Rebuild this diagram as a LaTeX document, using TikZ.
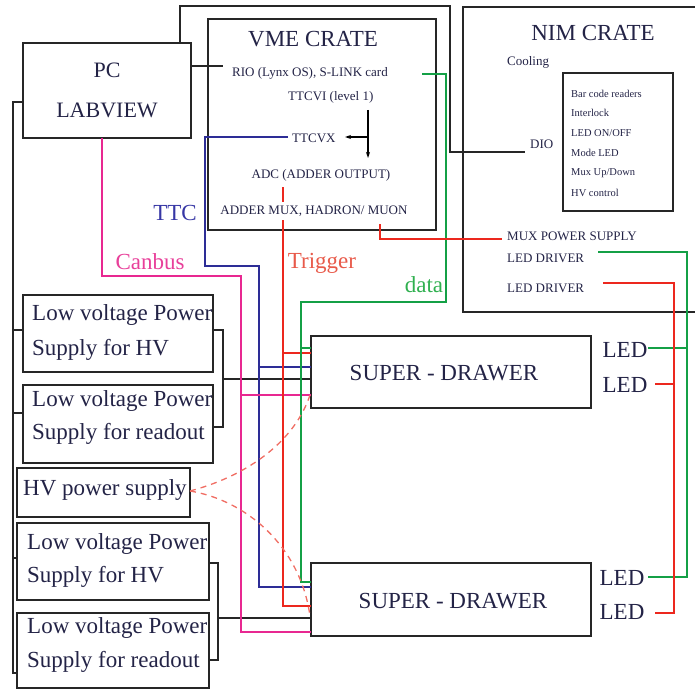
\documentclass[tikz,border=0pt]{standalone}
\usepackage{fontspec}
\setmainfont{Liberation Serif}
\usetikzlibrary{arrows.meta}
\definecolor{tc}{RGB}{35,35,70}
\definecolor{lblue}{RGB}{45,45,150}
\definecolor{lpink}{RGB}{232,40,145}
\definecolor{lred}{RGB}{236,40,30}
\definecolor{lgreen}{RGB}{20,160,70}
\definecolor{dred}{RGB}{240,110,100}
\definecolor{ttcc}{RGB}{55,55,165}
\definecolor{canc}{RGB}{232,64,154}
\definecolor{trigc}{RGB}{232,90,74}
\definecolor{datac}{RGB}{48,176,80}
\begin{document}
\begin{tikzpicture}[x=1pt,y=-1pt,
  box/.style={draw=black!85,line width=1.6pt,inner sep=0pt},
  ln/.style={line width=1.4pt,draw=black!85},
  bl/.style={line width=1.4pt,draw=lblue},
  pk/.style={line width=1.4pt,draw=lpink},
  rd/.style={line width=1.4pt,draw=lred},
  gr/.style={line width=1.4pt,draw=lgreen},
  hvd/.style={line width=1.3pt,draw=dred,dash pattern=on 6pt off 5pt},
  txt/.style={text=tc,inner sep=0pt},
  big/.style={font=\fontsize{23}{23}\selectfont},
  med/.style={font=\fontsize{13}{13}\selectfont},
  sml/.style={font=\fontsize{10.5}{10.5}\selectfont},
  arr/.style={-{Stealth[length=6pt,width=4pt]},line width=1.2pt,draw=black}
]
\useasboundingbox (0,0) rectangle (695,690);

% ---------- boxes ----------
\node[box,minimum width=168pt,minimum height=95pt,align=center,text=tc,
      font=\fontsize{22}{40}\selectfont] (pc) at (107,90.5) {PC\\LABVIEW};
\node[box,minimum width=228pt,minimum height=211pt] (vme) at (322,124.5) {};
\node[box,minimum width=110pt,minimum height=138pt] (inner) at (618,142) {};
\node[box,minimum width=190pt,minimum height=77pt] (lv1) at (118,333.5) {};
\node[box,minimum width=190pt,minimum height=78pt] (lv2) at (118,424) {};
\node[box,minimum width=173pt,minimum height=49pt] (hv) at (103.5,492.5) {};
\node[box,minimum width=192pt,minimum height=77pt] (lv3) at (113,561.5) {};
\node[box,minimum width=192pt,minimum height=75pt] (lv4) at (113,650.5) {};
\node[box,minimum width=280pt,minimum height=72pt] (sd1) at (451,372) {};
\node[box,minimum width=280pt,minimum height=73pt] (sd2) at (451,599.5) {};
% NIM crate (open to the right)
\draw[box] (695,7) -- (463,7) -- (463,312) -- (695,312);

% ---------- texts ----------
\node[txt,big] (vmet) at (313,39) {VME CRATE};
\node[txt,med,anchor=west] (rio) at (232,73) {RIO (Lynx OS), S-LINK card};
\node[txt,med,anchor=west] (ttcvi) at (288,97) {TTCVI (level 1)};
\node[txt,med,anchor=west] (ttcvx) at (292,138) {TTCVX};
\node[txt,med] (adc) at (321,175) {ADC (ADDER OUTPUT)};

\node[txt,big] (nimt) at (593,33) {NIM CRATE};
\node[txt,med,anchor=west] (cool) at (507,62) {Cooling};
\node[txt,med,anchor=west] (dio) at (530,144) {DIO};
\node[txt,sml,anchor=west] (i1) at (571,94) {Bar code readers};
\node[txt,sml,anchor=west] (i2) at (571,113) {Interlock};
\node[txt,sml,anchor=west] (i3) at (571,133) {LED ON/OFF};
\node[txt,sml,anchor=west] (i4) at (571,153) {Mode LED};
\node[txt,sml,anchor=west] (i5) at (571,173) {Mux Up/Down};
\node[txt,sml,anchor=west] (i6) at (571,193) {HV control};
\node[txt,med,anchor=west] (mux) at (507,236) {MUX POWER SUPPLY};
\node[txt,med,anchor=west] (ld1) at (507,258) {LED DRIVER};
\node[txt,med,anchor=west] (ld2) at (507,288) {LED DRIVER};

\node[txt,big,anchor=west] (lv1a) at (32,315) {Low voltage Power};
\node[txt,big,anchor=west] (lv1b) at (32,350) {Supply for HV};
\node[txt,big,anchor=west] (lv2a) at (32,401) {Low voltage Power};
\node[txt,big,anchor=west] (lv2b) at (32,434) {Supply for readout};
\node[txt,big,anchor=west] (hvt) at (23,490) {HV power supply};
\node[txt,big,anchor=west] (lv3a) at (27,544) {Low voltage Power};
\node[txt,big,anchor=west] (lv3b) at (27,577) {Supply for HV};
\node[txt,big,anchor=west] (lv4a) at (27,628) {Low voltage Power};
\node[txt,big,anchor=west] (lv4b) at (27,662) {Supply for readout};

\node[txt,big] (sd1t) at (444,373) {SUPER - DRAWER};
\node[txt,big] (sd2t) at (453,601) {SUPER - DRAWER};
\node[txt,big] (led1) at (625,350) {LED};
\node[txt,big] (led2) at (625,385) {LED};
\node[txt,big] (led3) at (622,578) {LED};
\node[txt,big] (led4) at (622,612) {LED};

\node[inner sep=0pt,big,text=ttcc] (ttcl) at (175,213) {TTC};
\node[inner sep=0pt,big,text=canc] (canl) at (150,262) {Canbus};
\node[inner sep=0pt,big,text=trigc] (trigl) at (322,263) {Trigger};
\node[inner sep=0pt,big,text=datac] (datal) at (424,285) {data};

% ---------- black connectors ----------
\coordinate (pcup) at (180,43);
\draw[ln] (pcup) -- (180,6) -- (450,6) -- (450,152) -- (525,152);
\draw[ln] (191,66) -- (223,66);
\draw[ln] (23,102) -- (13,102) -- (13,673) -- (17,673);
\draw[ln] (13,330) -- (23,330);
\draw[ln] (13,413) -- (23,413);
\draw[ln] (13,558) -- (17,558);
\draw[ln] (213,330) -- (223,330) -- (223,427) -- (213,427);
\draw[ln] (223,379) -- (311,379);
\draw[ln] (209,563) -- (218,563) -- (218,660) -- (209,660);
\draw[ln] (218,618) -- (311,618);
% TTCVI arrows
\draw[arr] (368,110) -- (368,158);
\draw[arr] (368,137) -- (345,137);

% ---------- blue TTC ----------
\draw[bl] (288,137) -- (205,137) -- (205,266) -- (259,266) -- (259,587) -- (311,587);
\draw[bl] (259,367) -- (311,367);
% ---------- pink Canbus ----------
\draw[pk] (102,138) -- (102,276) -- (241,276) -- (241,632) -- (311,632);
\draw[pk] (241,395) -- (311,395);
% ---------- red trigger ----------
\draw[rd] (283,187) -- (283,606) -- (311,606);
\draw[rd] (283,353) -- (311,353);
\node[txt,med,fill=white,inner ysep=3.5pt] (adder) at (314,211) {ADDER MUX, HADRON/ MUON};
% ---------- green data ----------
\draw[gr] (422,74) -- (446,74) -- (446,302) -- (301,302) -- (301,582) -- (311,582);
\draw[gr] (301,348) -- (311,348);
% ---------- MUX power ----------
\draw[rd] (380,224) -- (380,239) -- (502,239);
% ---------- LED drivers ----------
\draw[gr] (598,252) -- (687,252) -- (687,577) -- (648,577);
\draw[gr] (648,348) -- (687,348);
\draw[rd] (603,283) -- (674,283) -- (674,613) -- (655,613);
\draw[rd] (655,384) -- (674,384);

% ---------- HV dashed ----------
\draw[hvd] (190,491) .. controls (250,475) and (295,440) .. (310,395);
\draw[hvd] (190,491) .. controls (245,500) and (300,545) .. (310,616);
\end{tikzpicture}
\end{document}
